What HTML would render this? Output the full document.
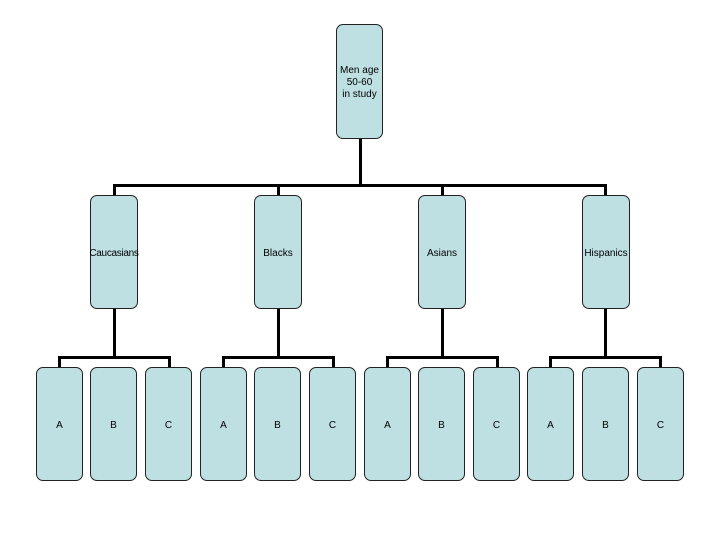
<!DOCTYPE html>
<html><head><style>
body{margin:0;background:#fff;}
.b{position:absolute;background:#bee0e3;border:1px solid #222;border-radius:7px;box-sizing:border-box;display:flex;align-items:center;justify-content:center;text-align:center;font-family:"Liberation Sans",sans-serif;font-size:10px;color:#000;line-height:12px;padding-top:3px;}
.l{position:absolute;background:#000;}
</style></head><body>
<div style="position:relative;width:720px;height:540px;overflow:hidden">
<div class="l" style="left:359px;top:138px;width:3px;height:48px"></div>
<div class="l" style="left:113px;top:184px;width:494px;height:3px"></div>
<div class="l" style="left:113px;top:184px;width:3px;height:12px"></div>
<div class="l" style="left:277px;top:184px;width:3px;height:12px"></div>
<div class="l" style="left:441px;top:184px;width:3px;height:12px"></div>
<div class="l" style="left:604px;top:184px;width:3px;height:12px"></div>

<div class="l" style="left:113px;top:308px;width:3px;height:50px"></div>
<div class="l" style="left:58px;top:356px;width:113px;height:3px"></div>
<div class="l" style="left:58px;top:356px;width:3px;height:12px"></div>
<div class="l" style="left:168px;top:356px;width:3px;height:12px"></div>

<div class="l" style="left:277px;top:308px;width:3px;height:50px"></div>
<div class="l" style="left:222px;top:356px;width:113px;height:3px"></div>
<div class="l" style="left:222px;top:356px;width:3px;height:12px"></div>
<div class="l" style="left:332px;top:356px;width:3px;height:12px"></div>

<div class="l" style="left:441px;top:308px;width:3px;height:50px"></div>
<div class="l" style="left:386px;top:356px;width:113px;height:3px"></div>
<div class="l" style="left:386px;top:356px;width:3px;height:12px"></div>
<div class="l" style="left:496px;top:356px;width:3px;height:12px"></div>

<div class="l" style="left:604px;top:308px;width:3px;height:50px"></div>
<div class="l" style="left:549px;top:356px;width:113px;height:3px"></div>
<div class="l" style="left:549px;top:356px;width:3px;height:12px"></div>
<div class="l" style="left:659px;top:356px;width:3px;height:12px"></div>

<div class="b" style="left:336px;top:24px;width:47px;height:115px">Men age<br>50-60<br>in study</div>
<div class="b" style="left:90px;top:195px;width:48px;height:114px;letter-spacing:-0.3px">Caucasians</div>
<div class="b" style="left:254px;top:195px;width:48px;height:114px">Blacks</div>
<div class="b" style="left:418px;top:195px;width:48px;height:114px">Asians</div>
<div class="b" style="left:582px;top:195px;width:48px;height:114px">Hispanics</div>

<div class="b" style="left:36px;top:367px;width:47px;height:114px">A</div>
<div class="b" style="left:90px;top:367px;width:47px;height:114px">B</div>
<div class="b" style="left:145px;top:367px;width:47px;height:114px">C</div>
<div class="b" style="left:200px;top:367px;width:47px;height:114px">A</div>
<div class="b" style="left:254px;top:367px;width:47px;height:114px">B</div>
<div class="b" style="left:309px;top:367px;width:47px;height:114px">C</div>
<div class="b" style="left:364px;top:367px;width:47px;height:114px">A</div>
<div class="b" style="left:418px;top:367px;width:47px;height:114px">B</div>
<div class="b" style="left:473px;top:367px;width:47px;height:114px">C</div>
<div class="b" style="left:527px;top:367px;width:47px;height:114px">A</div>
<div class="b" style="left:582px;top:367px;width:47px;height:114px">B</div>
<div class="b" style="left:637px;top:367px;width:47px;height:114px">C</div>
</div>
</body></html>
